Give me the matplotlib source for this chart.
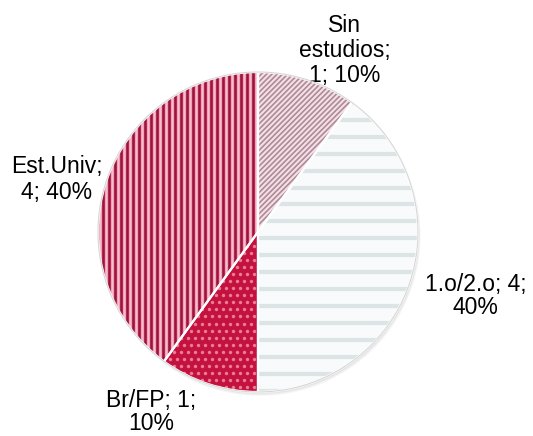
import matplotlib
matplotlib.use('Agg')
import matplotlib.pyplot as plt
import numpy as np
from matplotlib.patches import Circle, Wedge

# data
categories = ['Sin estudios', '1.o/2.o', 'Br/FP', 'Est.Univ']
values = [1, 4, 1, 4]
label_formats = ['Sin\nestudios;\n{v}; {p}%', '{c}; {v};\n{p}%', '{c}; {v};\n{p}%', '{c};\n{v}; {p}%']

# styles / layout
base_colors = ['#F5E0E7', '#F8FAFB', '#C4123E', '#B8254F']
label_pos = [(0.54, 1.135), (1.36, -0.40), (-0.67, -1.125), (-1.26, 0.33)]
label_spacing = [1.12, 1.05, 1.02, 1.15]

plt.rcParams['font.family'] = ['Liberation Sans', 'DejaVu Sans']

fig = plt.figure(figsize=(5.33, 4.36), dpi=100)
ax = fig.add_axes([0, 0, 1, 1])

# soft shadow below the pie
for k in range(5):
    ax.add_patch(Circle((0.004 * k, -0.006 * k), 1.0, color='k', alpha=0.035, lw=0, zorder=0))

wedges, _ = ax.pie(values, colors=base_colors, startangle=90, counterclock=False,
                   radius=1.0, wedgeprops=dict(edgecolor='none', linewidth=0))

span = np.linspace(-1.2, 1.2, 2)

# Sin estudios: diagonal stripes
for c in np.arange(-2.4, 2.4, 0.033):
    ln, = ax.plot(span, span + c, color='#AD8A97', lw=1.2, zorder=2)
    ln.set_clip_path(wedges[0])

# 1.o/2.o: horizontal stripes
for y in np.arange(-1.1, 1.1, 0.106):
    ln, = ax.plot(span, [y, y], color='#DDE4E6', lw=3.0, zorder=2)
    ln.set_clip_path(wedges[1])

# Br/FP: dots
pts_x, pts_y = [], []
for i, y in enumerate(np.arange(-1.1, 1.1, 0.044)):
    for x in np.arange(-1.1, 1.1, 0.044):
        pts_x.append(x + (0.022 if i % 2 else 0))
        pts_y.append(y)
sc = ax.scatter(pts_x, pts_y, s=6, color='#EA7C95', lw=0, zorder=2)
sc.set_clip_path(wedges[2])

# Est.Univ: vertical stripes
for x in np.arange(-1.1, 1.1, 0.0375):
    ln, = ax.plot([x, x], [-1.2, 1.2], color='#F8BED0', lw=1.9, zorder=2)
    ln.set_clip_path(wedges[3])
    ln, = ax.plot([x + 0.021, x + 0.021], [-1.2, 1.2], color='#861A3B', lw=0.6, zorder=2)
    ln.set_clip_path(wedges[3])

# white separators and outer rim
for w in wedges:
    ax.add_patch(Wedge(w.center, w.r, w.theta1, w.theta2, facecolor='none',
                       edgecolor='white', lw=1.6, zorder=3))
ax.add_patch(Circle((0, 0), 1.0, facecolor='none', edgecolor='#D6D6D6', lw=0.8, zorder=4))

total = sum(values)
for i, (c, v) in enumerate(zip(categories, values)):
    txt = label_formats[i].format(c=c, v=v, p=round(100 * v / total))
    ax.text(label_pos[i][0], label_pos[i][1], txt, ha='center', va='center',
            fontsize=16.5, linespacing=label_spacing[i], color='black')

ax.set_aspect('auto')
ax.set_xlim(-1.6125, 1.71875)
ax.set_ylim(-1.275, 1.45)
ax.axis('off')

fig.savefig('out.png', dpi=100)
